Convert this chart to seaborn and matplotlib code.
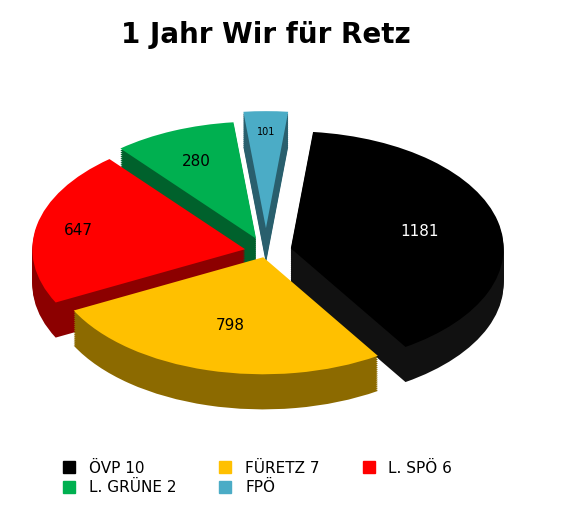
import numpy as np
import matplotlib.pyplot as plt
import matplotlib.colors as mcolors
import seaborn as sns

labels = ["ÖVP 10", "FÜRETZ 7", "L. SPÖ 6", "L. GRÜNE 2", "FPÖ"]
values = [1181, 798, 647, 280, 101]
colors = ["#000000", "#FFC000", "#FF0000", "#00B050", "#4BACC6"]
explode = [0.12, 0.05, 0.1, 0.12, 0.2]

sns.set_theme(style="white")
plt.rcParams['font.family'] = ['DejaVu Sans']

fig = plt.figure(figsize=(5.72, 5.22), dpi=100)
ax = fig.add_axes([0.0, 0.18, 0.93, 0.62])

def darker(c, f):
    r, g, b = mcolors.to_rgb(c)
    return (r * f, g * f, b * f)

# fake 3D extrusion: stack of darker pies shifted downward
depth = 0.3
n = 18
side = [darker(c, 0.55) if c != "#000000" else "#111111" for c in colors]
for i in range(n, 0, -1):
    off = depth * i / n
    ax.pie(values, explode=explode, colors=side, startangle=84, counterclock=False,
           radius=1.0, center=(0, -off), wedgeprops=dict(linewidth=0))
wedges, _ = ax.pie(values, explode=explode, colors=colors, startangle=84, counterclock=False,
                   radius=1.0, wedgeprops=dict(linewidth=0))

# value labels
txt_r = [0.62, 0.6, 0.8, 0.72, 0.82]
sizes = [11, 11, 11, 11, 7]
txt_col = ["white", "black", "black", "black", "black"]
for w, v, r, s, tc, ex in zip(wedges, values, txt_r, sizes, txt_col, explode):
    ang = np.deg2rad((w.theta1 + w.theta2) / 2)
    ax.text((r + ex) * np.cos(ang), (r + ex) * np.sin(ang), str(v), ha="center", va="center",
            fontsize=s, color=tc)

ax.set_xlim(-1.25, 1.25)
ax.set_ylim(-1.45, 1.2)
ax.set_aspect(0.55)

fig.text(0.465, 0.932, "1 Jahr Wir für Retz", ha="center", va="center", fontsize=20,
         fontweight="bold", color="black")

# legend filled row by row like the original
order = [0, 3, 1, 4, 2]
handles = [plt.Line2D([], [], marker="s", linestyle="", markersize=9, color=colors[i]) for i in order]
fig.legend(handles, [labels[i] for i in order], loc="lower left", bbox_to_anchor=(0.07, 0.025),
           ncol=3, frameon=False, fontsize=11, handletextpad=0.3, columnspacing=2.2,
           labelspacing=0.3, labelcolor="black")

fig.savefig("out.png", dpi=100)
